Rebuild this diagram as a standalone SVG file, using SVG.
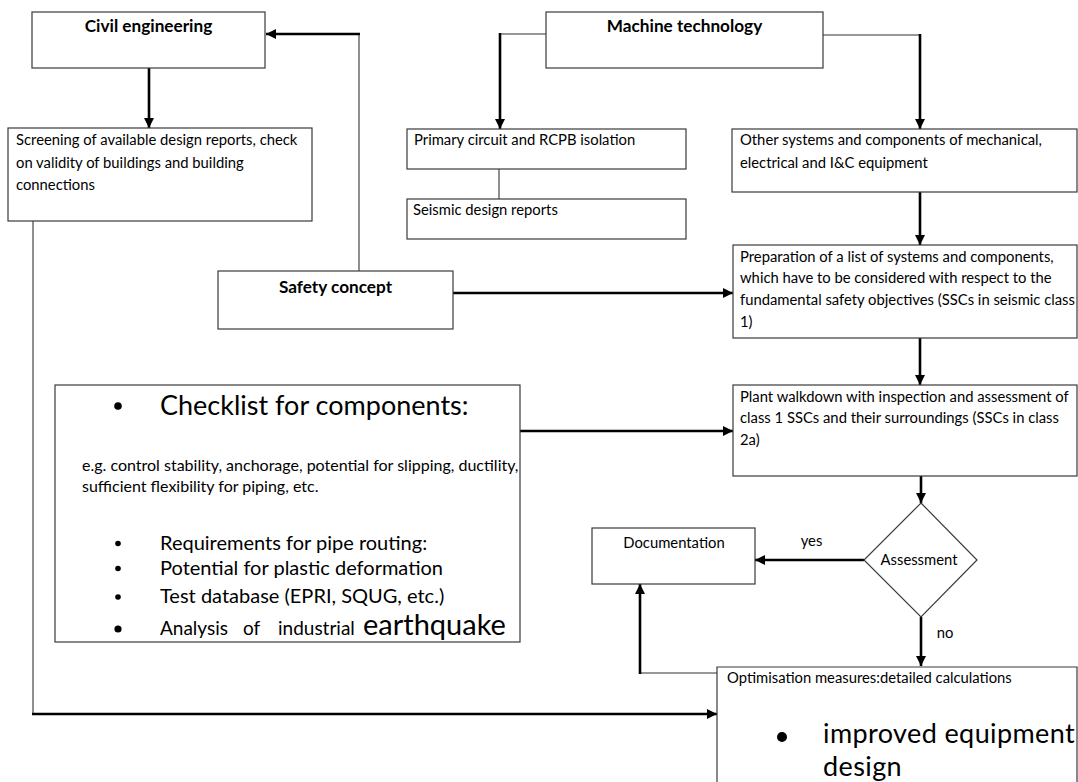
<svg xmlns="http://www.w3.org/2000/svg" width="1078" height="782" viewBox="0 0 1078 782">
<style>
.box{fill:#fff;stroke:#3a3a3a;stroke-width:1.2}
.t{font-family:Lato,"Liberation Sans",sans-serif;font-size:14.8px;fill:#000}
.b{font-family:Lato,"Liberation Sans",sans-serif;font-size:17.2px;font-weight:bold;fill:#000}
.thick{fill:none;stroke:#000;stroke-width:2.6}
.thin{fill:none;stroke:#333;stroke-width:1.1}
.dot{fill:#000}
</style>
<defs>
<marker id="ah" viewBox="0 0 10 10" refX="10" refY="5" markerWidth="10" markerHeight="10" markerUnits="userSpaceOnUse" orient="auto">
<path d="M0,0 L10,5 L0,10 z" fill="#000"/>
</marker>
</defs>
<rect width="1078" height="782" fill="#fff"/>
<g id="connectors">
<path class="thin" d="M359,271 V34"/>
<path class="thick" d="M360,34 H266" marker-end="url(#ah)"/>
<path class="thick" d="M149,68 V128" marker-end="url(#ah)"/>
<path class="thin" d="M546,34 H500"/>
<path class="thick" d="M500,33 V129" marker-end="url(#ah)"/>
<path class="thin" d="M823,35 H920"/>
<path class="thick" d="M920,34 V129" marker-end="url(#ah)"/>
<path class="thin" d="M499,169 V199"/>
<path class="thick" d="M920,192 V245" marker-end="url(#ah)"/>
<path class="thick" d="M453,293 H733" marker-end="url(#ah)"/>
<path class="thick" d="M920,338 V385" marker-end="url(#ah)"/>
<path class="thick" d="M520,431 H733" marker-end="url(#ah)"/>
<path class="thick" d="M921,476 V503" marker-end="url(#ah)"/>
<path class="thick" d="M864,560 H755" marker-end="url(#ah)"/>
<path class="thick" d="M921,617 V666" marker-end="url(#ah)"/>
<path class="thin" d="M717,673 H640"/>
<path class="thick" d="M640,674 V584" marker-end="url(#ah)"/>
<path class="thin" d="M33,221 V714"/>
<path class="thick" d="M32,714 H717" marker-end="url(#ah)"/>
</g>
<g id="civil">
<rect class="box" x="32" y="12" width="233" height="56"/>
<text class="b" x="148.5" y="32" text-anchor="middle">Civil engineering</text>
</g>
<g id="screening">
<rect class="box" x="8" y="128" width="304" height="93"/>
<text class="t" x="16" y="145">Screening of available design reports, check</text>
<text class="t" x="16" y="168">on validity of buildings and building</text>
<text class="t" x="16" y="190">connections</text>
</g>
<g id="machine">
<rect class="box" x="546" y="12" width="277" height="56"/>
<text class="b" x="684.5" y="32" text-anchor="middle">Machine technology</text>
</g>
<g id="primary">
<rect class="box" x="407" y="129" width="279" height="40"/>
<text class="t" x="414" y="145">Primary circuit and RCPB isolation</text>
</g>
<g id="seismic">
<rect class="box" x="407" y="199" width="279" height="40"/>
<text class="t" x="413" y="215">Seismic design reports</text>
</g>
<g id="other">
<rect class="box" x="732" y="129" width="345" height="63"/>
<text class="t" x="740" y="145">Other systems and components of mechanical,</text>
<text class="t" x="740" y="168">electrical and I&amp;C equipment</text>
</g>
<g id="safety">
<rect class="box" x="218" y="271" width="235" height="58"/>
<text class="b" x="335.5" y="292.5" text-anchor="middle">Safety concept</text>
</g>
<g id="preparation">
<rect class="box" x="733" y="245" width="344" height="93"/>
<text class="t" x="740" y="261.5">Preparation of a list of systems and components,</text>
<text class="t" x="740" y="283">which have to be considered with respect to the</text>
<text class="t" x="740" y="305">fundamental safety objectives (SSCs in seismic class</text>
<text class="t" x="740" y="327">1)</text>
</g>
<g id="walkdown">
<rect class="box" x="733" y="385" width="344" height="91"/>
<text class="t" x="740" y="401.5">Plant walkdown with inspection and assessment of</text>
<text class="t" x="740" y="423">class 1 SSCs and their surroundings (SSCs in class</text>
<text class="t" x="740" y="445">2a)</text>
</g>
<g id="checklist">
<rect class="box" x="55" y="385" width="465" height="257"/>
<circle class="dot" cx="118" cy="406" r="3.8"/>
<text class="t" x="160" y="415" style="font-size:27px">Checklist for components:</text>
<text class="t" x="82" y="471" style="font-size:16px">e.g. control stability, anchorage, potential for slipping, ductility,</text>
<text class="t" x="82" y="492" style="font-size:16px">sufficient flexibility for piping, etc.</text>
<circle class="dot" cx="118" cy="543.5" r="2.8"/>
<text class="t" x="160" y="549.5" style="font-size:20px">Requirements for pipe routing:</text>
<circle class="dot" cx="118" cy="568.5" r="2.8"/>
<text class="t" x="160" y="574.5" style="font-size:20px">Potential for plastic deformation</text>
<circle class="dot" cx="118" cy="597" r="2.8"/>
<text class="t" x="160" y="603" style="font-size:20px">Test database (EPRI, SQUG, etc.)</text>
<circle class="dot" cx="118" cy="629" r="3.6"/>
<text class="t" y="635" style="font-size:19px"><tspan x="160">Analysis</tspan><tspan x="243">of</tspan><tspan x="278">industrial</tspan><tspan x="363" style="font-size:29px">earthquake</tspan></text>
</g>
<g id="documentation">
<rect class="box" x="592" y="528" width="163" height="56"/>
<text class="t" x="674" y="547.5" text-anchor="middle">Documentation</text>
</g>
<g id="assessment">
<path class="box" d="M921,503 L977,560 L921,617 L864,560 Z"/>
<text class="t" x="919" y="565" text-anchor="middle">Assessment</text>
</g>
<text class="t" x="811.5" y="545.5" text-anchor="middle">yes</text>
<text class="t" x="945" y="638" text-anchor="middle">no</text>
<g id="optimisation">
<path class="box" d="M717,790 V667 H1077 V790"/>
<text class="t" x="727" y="683">Optimisation measures:detailed calculations</text>
<circle class="dot" cx="782" cy="737" r="5"/>
<text class="t" x="823" y="743" style="font-size:27px;letter-spacing:0.4px">improved equipment</text>
<text class="t" x="823" y="776" style="font-size:27px;letter-spacing:0.4px">design</text>
</g>
</svg>
